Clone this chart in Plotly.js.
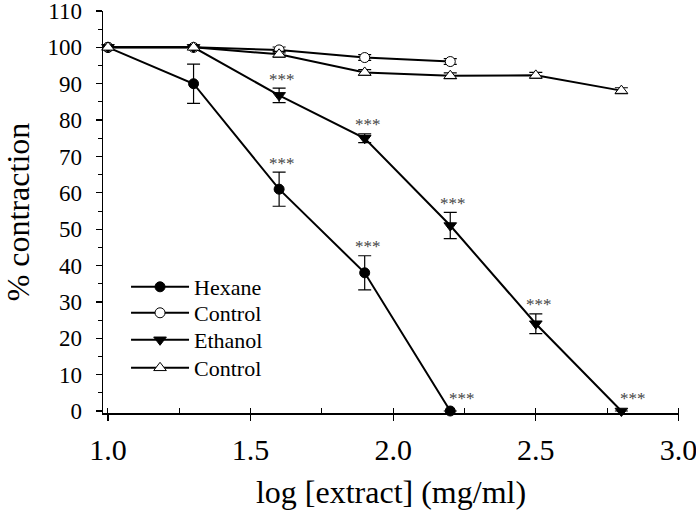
<!DOCTYPE html>
<html>
<head>
<meta charset="utf-8">
<script src="https://cdn.plot.ly/plotly-3.0.1.min.js"></script>
<style>html,body{margin:0;padding:0;background:#fff;}#chart{width:696px;height:511px;}</style>
</head>
<body>
<div id="chart"></div>
<script>
// ---- data ----
var hexaneX = [1.0, 1.3, 1.6, 1.9, 2.2];
var hexaneY = [100, 90, 61, 38, 0];
var hexaneErr = [null, 5.4, 4.7, 4.7, null];
var hexaneSig = [false, false, true, true, true];

var control1X = [1.0, 1.3, 1.6, 1.9, 2.2];
var control1Y = [100, 100, 99.3, 97.2, 96.1];
var control1Err = [null, null, 0.8, 0.8, 0.8];

var ethanolX = [1.0, 1.3, 1.6, 1.9, 2.2, 2.5, 2.8];
var ethanolY = [100, 100, 86.8, 75, 51, 24, 0];
var ethanolErr = [null, null, 2.0, 1.2, 3.6, 2.7, null];
var ethanolSig = [false, false, true, true, true, true, true];

var control2X = [1.0, 1.3, 1.6, 1.9, 2.2, 2.5, 2.8];
var control2Y = [100, 100, 98.1, 93.1, 92.2, 92.3, 88.1];
var control2Err = [null, null, 0.8, 0.8, 0.8, 0.8, 0.8];

var seriesNames = ["Hexane", "Control", "Ethanol", "Control"];
var xTickVals = [1.0, 1.5, 2.0, 2.5, 3.0];
var xTickText = ["1.0", "1.5", "2.0", "2.5", "3.0"];
var yTickVals = [0, 10, 20, 30, 40, 50, 60, 70, 80, 90, 100, 110];
var xTitle = "log [extract] (mg/ml)";
var yTitle = "% contraction";
var sigLabel = "***";

var FONT = 'Liberation Serif, Times New Roman, serif';

function mk(name, x, y, err, symbol, color, size, legendId) {
  return {
    type: 'scatter', mode: 'lines+markers', name: name, x: x, y: y,
    cliponaxis: false, legend: legendId,
    line: {color: '#000', width: 2},
    marker: {symbol: symbol, size: size, color: color, line: {color: '#000', width: 1}},
    error_y: {type: 'data', array: err, visible: true, color: '#000', thickness: 1.2, width: 6.5}
  };
}

var traces = [
  mk(seriesNames[0], hexaneX, hexaneY, hexaneErr, 'circle', '#000', 10, 'legend'),
  mk(seriesNames[1], control1X, control1Y, control1Err, 'circle', '#fff', 10, 'legend2'),
  mk(seriesNames[2], ethanolX, ethanolY, ethanolErr, 'triangle-down', '#000', 11, 'legend3'),
  mk(seriesNames[3], control2X, control2Y, control2Err, 'triangle-up', '#fff', 11, 'legend4')
];

var annotations = [];
function addStars(x, y, err, sig) {
  for (var i = 0; i < x.length; i++) {
    if (!sig[i]) continue;
    var top = y[i] + (err[i] || 0);
    var atZero = y[i] === 0;
    annotations.push({
      x: x[i], y: top, xref: 'x', yref: 'y', text: sigLabel, showarrow: false,
      xanchor: 'center', yanchor: 'middle',
      xshift: atZero ? 12 : 3, yshift: atZero ? 13 : 9,
      font: {family: FONT, size: 17, color: '#444'}
    });
  }
}
addStars(hexaneX, hexaneY, hexaneErr, hexaneSig);
addStars(ethanolX, ethanolY, ethanolErr, ethanolSig);

// legend rows placed at the reference's row centres (paper fraction of plot height)
function leg(y) {
  return {
    x: 0.04, y: y, xanchor: 'left', yanchor: 'middle',
    bgcolor: 'rgba(0,0,0,0)', borderwidth: 0,
    font: {family: FONT, size: 22, color: '#000'},
    itemwidth: 58
  };
}

var layout = {
  width: 696, height: 511,
  margin: {l: 103, r: 17, t: 11, b: 98, pad: 0},
  paper_bgcolor: '#fff', plot_bgcolor: '#fff',
  font: {family: FONT, color: '#000'},
  showlegend: true,
  legend: leg(0.3134),
  legend2: leg(0.2488),
  legend3: leg(0.1816),
  legend4: leg(0.1119),
  xaxis: {
    range: [0.9825, 3.002], showgrid: false, zeroline: false,
    showline: true, linecolor: '#000', linewidth: 1.5,
    tickmode: 'array', tickvals: xTickVals, ticktext: xTickText,
    ticks: 'outside', ticklen: 6, tickwidth: 1.2, tickcolor: '#000',
    ticklabelstandoff: 3, ticklabeloverflow: 'allow',
    tickfont: {family: FONT, size: 30, color: '#000'},
    minor: {dtick: 0.25, tick0: 1.0, ticks: 'inside', ticklen: 5, tickwidth: 1, tickcolor: '#000', showgrid: false},
    title: {text: xTitle, font: {family: FONT, size: 32, color: '#000'}, standoff: 16},
    automargin: false
  },
  yaxis: {
    range: [-0.55, 110], showgrid: false, zeroline: false,
    showline: true, linecolor: '#000', linewidth: 1.5,
    tickmode: 'array', tickvals: yTickVals,
    ticks: 'outside', ticklen: 6, tickwidth: 1.2, tickcolor: '#000',
    ticklabelstandoff: 9, ticklabeloverflow: 'allow',
    tickfont: {family: FONT, size: 23, color: '#000'},
    minor: {dtick: 5, tick0: 0, ticks: 'outside', ticklen: 3.5, tickwidth: 1, tickcolor: '#000', showgrid: false},
    title: {text: yTitle, font: {family: FONT, size: 32, color: '#000'}, standoff: 20},
    automargin: 'title'
  },
  annotations: annotations
};

Plotly.newPlot('chart', traces, layout, {staticPlot: true, displayModeBar: false});
</script>
</body>
</html>
